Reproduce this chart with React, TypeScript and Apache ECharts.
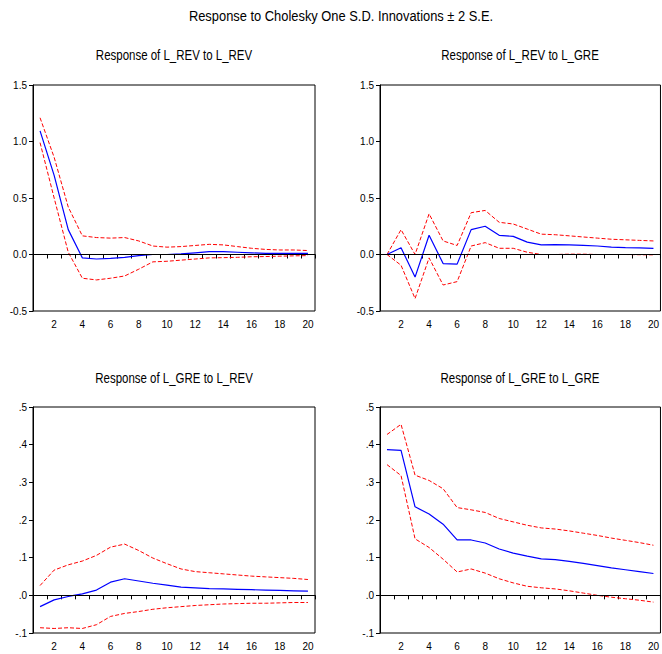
import React, { useEffect, useRef } from "react";
import * as echarts from "echarts";

const periods = ["1","2","3","4","5","6","7","8","9","10","11","12","13","14","15","16","17","18","19","20"];

const revRevMid = [1.094, 0.70, 0.22, -0.03, -0.04, -0.035, -0.025, -0.01, 0.0, 0.0, 0.005, 0.015, 0.025, 0.025, 0.02, 0.015, 0.01, 0.01, 0.01, 0.01];
const revRevUp = [1.21, 0.86, 0.42, 0.165, 0.15, 0.145, 0.15, 0.12, 0.075, 0.065, 0.07, 0.08, 0.09, 0.085, 0.07, 0.055, 0.045, 0.04, 0.04, 0.035];
const revRevLo = [0.99, 0.50, 0.02, -0.21, -0.225, -0.21, -0.19, -0.13, -0.065, -0.06, -0.05, -0.04, -0.03, -0.028, -0.025, -0.02, -0.018, -0.015, -0.012, -0.01];

const revGreMid = [0.0, 0.06, -0.2, 0.17, -0.08, -0.085, 0.22, 0.25, 0.17, 0.16, 0.11, 0.085, 0.088, 0.085, 0.08, 0.075, 0.065, 0.06, 0.058, 0.055];
const revGreUp = [0.0, 0.22, 0.0, 0.36, 0.12, 0.08, 0.37, 0.39, 0.285, 0.27, 0.225, 0.18, 0.175, 0.165, 0.155, 0.145, 0.135, 0.13, 0.125, 0.12];
const revGreLo = [0.0, -0.095, -0.39, -0.03, -0.27, -0.24, 0.075, 0.105, 0.055, 0.055, 0.02, 0.0, 0.0, 0.003, 0.003, 0.0, 0.0, 0.0, -0.002, -0.003];

const greRevMid = [-0.03, -0.012, -0.003, 0.004, 0.014, 0.035, 0.044, 0.038, 0.032, 0.027, 0.022, 0.02, 0.018, 0.017, 0.016, 0.015, 0.014, 0.013, 0.012, 0.011];
const greRevUp = [0.026, 0.067, 0.081, 0.091, 0.106, 0.128, 0.136, 0.119, 0.099, 0.084, 0.07, 0.063, 0.06, 0.057, 0.054, 0.051, 0.049, 0.047, 0.045, 0.042];
const greRevLo = [-0.086, -0.088, -0.086, -0.088, -0.078, -0.056, -0.048, -0.043, -0.037, -0.033, -0.03, -0.027, -0.025, -0.023, -0.022, -0.021, -0.021, -0.02, -0.019, -0.019];

const greGreMid = [0.387, 0.385, 0.235, 0.216, 0.189, 0.147, 0.147, 0.139, 0.123, 0.112, 0.104, 0.097, 0.095, 0.09, 0.085, 0.079, 0.073, 0.068, 0.063, 0.058];
const greGreUp = [0.427, 0.454, 0.319, 0.305, 0.283, 0.233, 0.227, 0.22, 0.204, 0.195, 0.186, 0.179, 0.176, 0.171, 0.165, 0.159, 0.152, 0.146, 0.14, 0.133];
const greGreLo = [0.347, 0.318, 0.15, 0.127, 0.096, 0.062, 0.07, 0.059, 0.044, 0.033, 0.024, 0.02, 0.017, 0.012, 0.006, 0.0, -0.005, -0.009, -0.013, -0.018];

const mainTitle = "Response to Cholesky One S.D. Innovations \u00B1 2 S.E.";
const panelTitles = ["Response of L_REV to L_REV", "Response of L_REV to L_GRE", "Response of L_GRE to L_REV", "Response of L_GRE to L_GRE"];

const FONT = '"Liberation Sans", Arial, sans-serif';

export default function App() {
  const ref = useRef<HTMLDivElement>(null);
  useEffect(() => {
    document.body.style.margin = "0";
    const chart = echarts.init(ref.current!, undefined, { renderer: "svg" });
    const panels = [
      { mid: revRevMid, up: revRevUp, lo: revRevLo, min: -0.5, max: 1.5, step: 0.5, fmt: (v: number) => v.toFixed(1) },
      { mid: revGreMid, up: revGreUp, lo: revGreLo, min: -0.5, max: 1.5, step: 0.5, fmt: (v: number) => v.toFixed(1) },
      { mid: greRevMid, up: greRevUp, lo: greRevLo, min: -0.1, max: 0.5, step: 0.1, fmt: (v: number) => v.toFixed(1).replace("0.", ".") },
      { mid: greGreMid, up: greGreUp, lo: greGreLo, min: -0.1, max: 0.5, step: 0.1, fmt: (v: number) => v.toFixed(1).replace("0.", ".") },
    ];
    const grids = [
      { left: 33, top: 85, width: 282, height: 226 },
      { left: 380, top: 85, width: 281, height: 226 },
      { left: 33, top: 407, width: 282, height: 226 },
      { left: 380, top: 407, width: 281, height: 226 },
    ];
    const titlePos = [
      { x: 174, y: 55 },
      { x: 520, y: 55 },
      { x: 174, y: 378 },
      { x: 520, y: 378 },
    ];
    const series: any[] = [];
    panels.forEach((p, i) => {
      const dashed = { color: "#FF0000", width: 1, type: [4, 2] as any };
      series.push({
        type: "line", xAxisIndex: i, yAxisIndex: i, data: p.up, symbol: "none",
        lineStyle: dashed, silent: true,
      });
      series.push({
        type: "line", xAxisIndex: i, yAxisIndex: i, data: p.lo, symbol: "none",
        lineStyle: dashed, silent: true,
      });
      series.push({
        type: "line", xAxisIndex: i, yAxisIndex: i, data: p.mid, symbol: "none",
        lineStyle: { color: "#0000FF", width: 1.2 }, silent: true, z: 3,
        markLine: {
          silent: true, symbol: "none", label: { show: false },
          lineStyle: { color: "#000000", width: 1, type: "solid" },
          data: [{ yAxis: 0 }],
        },
      });
    });
    chart.setOption({
      animation: false,
      grid: grids.map((g) => ({ ...g, show: true, borderColor: "#000", borderWidth: 1, backgroundColor: "transparent" })),
      xAxis: panels.map((_, i) => ({
        type: "category", gridIndex: i, data: periods, boundaryGap: true,
        axisLine: { show: true, lineStyle: { color: "#000", width: 1 } },
        axisTick: { show: true, inside: false, length: 4, interval: 0, lineStyle: { color: "#000" } },
        axisLabel: {
          interval: (idx: number) => idx % 2 === 1,
          color: "#000", fontFamily: FONT, fontSize: 10, margin: 8,
        },
        splitLine: { show: false },
      })),
      yAxis: panels.map((p, i) => ({
        type: "value", gridIndex: i, min: p.min, max: p.max, interval: p.step,
        axisLine: { show: true, lineStyle: { color: "#000", width: 1 } },
        axisTick: { show: true, inside: false, length: 4, lineStyle: { color: "#000" } },
        axisLabel: { color: "#000", fontFamily: FONT, fontSize: 10, margin: 6, formatter: p.fmt },
        splitLine: { show: false },
      })),
      graphic: [
        {
          type: "text", x: 341, y: 16, scaleX: 0.86,
          style: { text: mainTitle, align: "center", verticalAlign: "middle", font: `15px ${FONT}`, fill: "#000" },
        },
        ...titlePos.map((t, i) => ({
          type: "text", x: t.x, y: t.y, scaleX: 0.82,
          style: { text: panelTitles[i], align: "center", verticalAlign: "middle", font: `14px ${FONT}`, fill: "#000" },
        })),
      ],
      series,
    });
    return () => chart.dispose();
  }, []);
  return <div ref={ref} style={{ width: 662, height: 654, background: "#fff" }} />;
}
